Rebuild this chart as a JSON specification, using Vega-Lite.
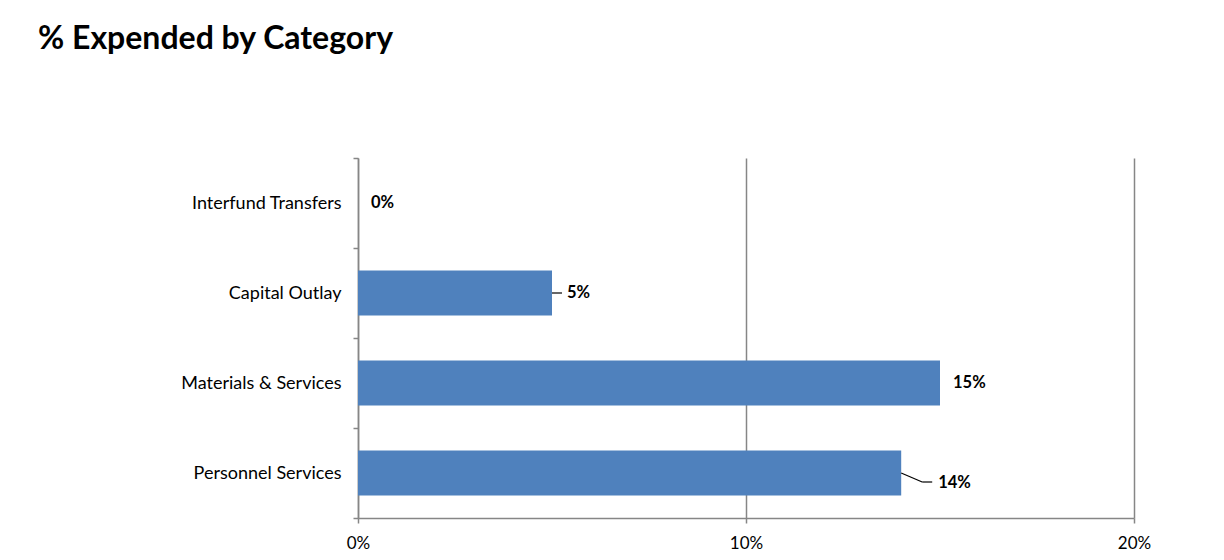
{
  "$schema": "https://vega.github.io/schema/vega-lite/v6.json",
  "width": 776,
  "height": 360,
  "autosize": "none",
  "padding": {"left": 358, "top": 158, "right": 90, "bottom": 42},
  "background": "white",
  "title": {
    "text": "% Expended by Category",
    "anchor": "start",
    "frame": "group",
    "orient": "top",
    "baseline": "alphabetic",
    "offset": 101,
    "dx": -320,
    "dy": 33,
    "font": "Lato",
    "fontSize": 32,
    "fontWeight": "bold",
    "color": "black"
  },
  "data": {
    "values": [
      {"category": "Interfund Transfers", "pct": 0.0},
      {"category": "Capital Outlay", "pct": 0.05},
      {"category": "Materials & Services", "pct": 0.15},
      {"category": "Personnel Services", "pct": 0.14}
    ]
  },
  "encoding": {
    "y": {
      "field": "category",
      "type": "nominal",
      "sort": null,
      "scale": {"paddingInner": 0, "paddingOuter": 0},
      "axis": {
        "title": null,
        "tickBand": "extent",
        "domainColor": "#868686",
        "domainWidth": 1.5,
        "tickColor": "#868686",
        "tickWidth": 1.5,
        "tickSize": 5,
        "labelPadding": 12,
        "labelFont": "Lato",
        "labelFontSize": 18,
        "labelColor": "black",
        "grid": false
      }
    },
    "x": {
      "field": "pct",
      "type": "quantitative",
      "scale": {"domain": [0, 0.2], "nice": false},
      "axis": {
        "title": null,
        "values": [0, 0.1, 0.2],
        "format": ".0%",
        "labelFlush": false,
        "grid": true,
        "gridColor": "#868686",
        "gridWidth": 1.5,
        "domainColor": "#868686",
        "domainWidth": 1.5,
        "tickColor": "#868686",
        "tickWidth": 1.5,
        "tickSize": 5,
        "labelPadding": 12,
        "labelFont": "Lato",
        "labelFontSize": 17,
        "labelColor": "black"
      }
    }
  },
  "layer": [
    {"mark": {"type": "bar", "color": "#4F81BD", "height": {"band": 0.5}}},
    {
      "transform": [{"filter": "datum.category === 'Capital Outlay'"}],
      "mark": {"type": "rule", "color": "black", "strokeWidth": 1.2, "x2Offset": 10},
      "encoding": {"x2": {"field": "pct"}}
    },
    {
      "transform": [{"filter": "datum.category === 'Personnel Services'"}],
      "mark": {"type": "rule", "color": "black", "strokeWidth": 1.2, "x2Offset": 21, "y2Offset": 9},
      "encoding": {"x2": {"field": "pct"}, "y2": {"field": "category"}}
    },
    {
      "transform": [{"filter": "datum.category === 'Personnel Services'"}],
      "mark": {"type": "rule", "color": "black", "strokeWidth": 1.2, "xOffset": 21, "x2Offset": 31, "yOffset": 9},
      "encoding": {"x2": {"field": "pct"}}
    },
    {
      "transform": [{"filter": "datum.category === 'Interfund Transfers' || datum.category === 'Materials & Services'"}],
      "mark": {"type": "text", "align": "left", "baseline": "middle", "dx": 13, "font": "Lato", "fontSize": 16.5, "fontWeight": "bold", "color": "black"},
      "encoding": {"text": {"field": "pct", "type": "quantitative", "format": ".0%"}}
    },
    {
      "transform": [{"filter": "datum.category === 'Capital Outlay'"}],
      "mark": {"type": "text", "align": "left", "baseline": "middle", "dx": 15, "font": "Lato", "fontSize": 16.5, "fontWeight": "bold", "color": "black"},
      "encoding": {"text": {"field": "pct", "type": "quantitative", "format": ".0%"}}
    },
    {
      "transform": [{"filter": "datum.category === 'Personnel Services'"}],
      "mark": {"type": "text", "align": "left", "baseline": "middle", "dx": 37, "dy": 10, "font": "Lato", "fontSize": 16.5, "fontWeight": "bold", "color": "black"},
      "encoding": {"text": {"field": "pct", "type": "quantitative", "format": ".0%"}}
    }
  ],
  "config": {"view": {"stroke": null}}
}
